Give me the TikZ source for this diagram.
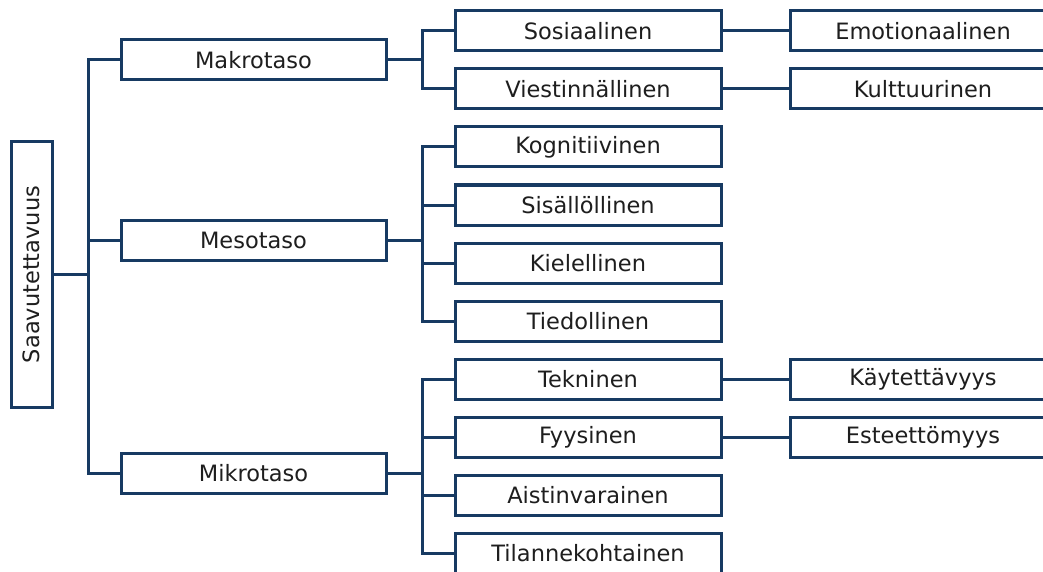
\documentclass[tikz,border=0pt]{standalone}
\usepackage{fontspec}
\setmainfont{DejaVu Sans}
\definecolor{linecol}{RGB}{23,58,98}
\definecolor{textcol}{RGB}{30,30,30}
\begin{document}
\begin{tikzpicture}[x=1pt,y=-1pt,
  box/.style={draw=linecol, line width=3pt, fill=white, text=textcol,
    font=\fontsize{22.5}{26}\selectfont, inner sep=0pt,
    minimum height=40pt, minimum width=265pt},
  rootbox/.style={box, minimum width=265pt, minimum height=41pt, rotate=90},
  link/.style={draw=linecol, line width=3pt}]
\useasboundingbox (0,0) rectangle (1043,572);
\clip (0,0) rectangle (1043,572);

% bus lines
\coordinate (busA) at (88,0);
\coordinate (busB) at (422,0);

% root
\node[rootbox] (root) at (31.5,274.5) {Saavutettavuus};

% first level
\node[box] (mak) at (253.5,60)  {Makrotaso};
\node[box] (mes) at (253.5,240) {Mesotaso};
\node[box] (mik) at (253.5,473) {Mikrotaso};

% second level
\node[box, minimum width=266pt] (sos)  at (588,31)  {Sosiaalinen};
\node[box, minimum width=266pt] (vie)  at (588,89)  {Viestinnällinen};
\node[box, minimum width=266pt] (kog)  at (588,147) {Kognitiivinen};
\node[box, minimum width=266pt] (sis)  at (588,205) {Sisällöllinen};
\node[box, minimum width=266pt] (kie)  at (588,263) {Kielellinen};
\node[box, minimum width=266pt] (tie)  at (588,321) {Tiedollinen};
\node[box, minimum width=266pt] (tek)  at (588,379) {Tekninen};
\node[box, minimum width=266pt] (fyy)  at (588,437) {Fyysinen};
\node[box, minimum width=266pt] (ais)  at (588,495) {Aistinvarainen};
\node[box, minimum width=266pt] (til)  at (588,553) {Tilannekohtainen};

% third level
\node[box, minimum width=266pt] (emo) at (923,31)  {Emotionaalinen};
\node[box, minimum width=266pt] (kul) at (923,89)  {Kulttuurinen};
\node[box, minimum width=266pt] (kay) at (923,379) {Käytettävyys};
\node[box, minimum width=266pt] (est) at (923,437) {Esteettömyys};

% connectors
\draw[link] (root.south) -- (root.south -| busA);
\draw[link] (mak.west) -- (busA |- mak.west) |- (mik.west);
\draw[link] (mes.west) -- (mes.west -| busA);

\draw[link] (mak.east) -- (mak.east -| busB);
\draw[link] (sos.west) -- (busB |- sos.west) |- (vie.west);

\draw[link] (mes.east) -- (mes.east -| busB);
\draw[link] (kog.west) -- (busB |- kog.west) |- (tie.west);
\draw[link] (sis.west) -- (sis.west -| busB);
\draw[link] (kie.west) -- (kie.west -| busB);

\draw[link] (mik.east) -- (mik.east -| busB);
\draw[link] (tek.west) -- (busB |- tek.west) |- (til.west);
\draw[link] (fyy.west) -- (fyy.west -| busB);
\draw[link] (ais.west) -- (ais.west -| busB);

\draw[link] (sos.east) -- (emo.west);
\draw[link] (vie.east) -- (kul.west);
\draw[link] (tek.east) -- (kay.west);
\draw[link] (fyy.east) -- (est.west);
\end{tikzpicture}
\end{document}
